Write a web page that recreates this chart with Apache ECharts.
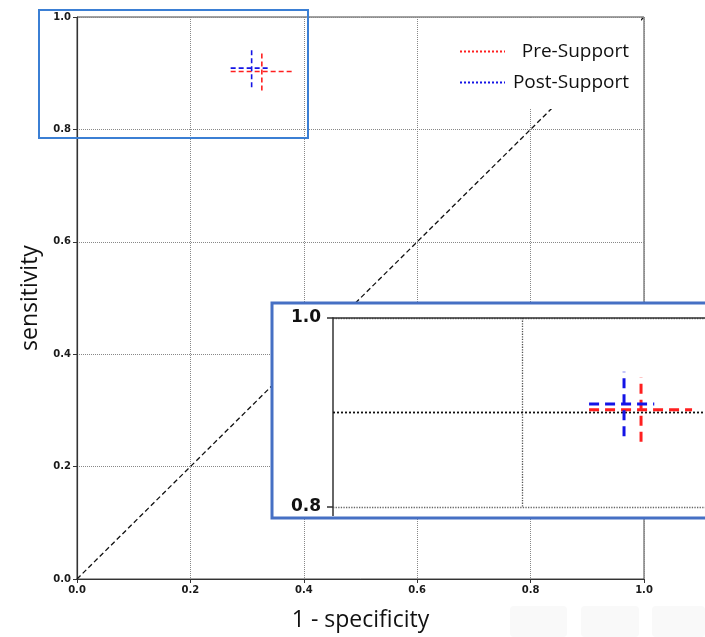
<!DOCTYPE html>
<html>
<head>
<meta charset="utf-8">
<script src="https://cdn.jsdelivr.net/npm/echarts@6/dist/echarts.min.js"></script>
<style>
  html, body { margin: 0; padding: 0; background: #fff; }
  #main { width: 705px; height: 637px; }
</style>
</head>
<body>
<div id="main"></div>
<script>
// data
var groups = ['Pre-Support', 'Post-Support'];
var centerX = [0.326, 0.308];
var centerY = [0.903, 0.909];
var xLow = [0.271, 0.271];
var xHigh = [0.380, 0.340];
var yLow = [0.869, 0.875];
var yHigh = [0.937, 0.943];
var diagonal = [[0, 0], [1, 1]];
var insetRefY = 0.9;
var insetXMax = 0.3937; // inset is cut by the page edge

var colors = ['#ff1f1f', '#1414e6'];
var tickFont = { fontFamily: 'DejaVu Sans', fontWeight: 'bold', fontSize: 10, color: '#1a1a1a' };

var chart = echarts.init(document.getElementById('main'));

// error bar crosses, one pair of segments per group and per grid
function crossSeries(gridIdx, width, dash, zl) {
  var out = [];
  for (var i = 0; i < groups.length; i++) {
    var ls = { color: colors[i], width: width, type: dash };
    var base = {
      name: groups[i], type: 'line', symbol: 'none', silent: true,
      xAxisIndex: gridIdx, yAxisIndex: gridIdx,
      lineStyle: ls, itemStyle: { color: colors[i] },
      zlevel: zl, z: 3, animation: false
    };
    out.push(Object.assign({}, base, { data: [[xLow[i], centerY[i]], [xHigh[i], centerY[i]]] }));
    out.push(Object.assign({}, base, { data: [[centerX[i], yLow[i]], [centerX[i], yHigh[i]]] }));
  }
  return out;
}

var series = [{
  name: 'diag', type: 'line', symbol: 'none', silent: true,
  data: diagonal,
  lineStyle: { color: '#111', width: 1.3, type: [5, 3] },
  z: 2, animation: false
}];
series = series.concat(crossSeries(0, 1.6, [5, 3], 0));
series.push({
  name: 'ref', type: 'line', symbol: 'none', silent: true,
  xAxisIndex: 1, yAxisIndex: 1,
  data: [[0, insetRefY], [insetXMax, insetRefY]],
  lineStyle: { color: '#111', width: 1.8, type: [2, 2] },
  zlevel: 1, z: 2, animation: false
});
series = series.concat(crossSeries(1, 3, [10, 6], 1));

var option = {
  backgroundColor: '#fff',
  animation: false,
  grid: [
    { left: 77, top: 17, width: 567, height: 564, show: true, borderColor: '#444', borderWidth: 1, backgroundColor: 'transparent' },
    { left: 333, top: 318, right: 0, height: 189, show: false }
  ],
  legend: {
    data: groups,
    orient: 'vertical',
    right: 64, top: 19,
    padding: [23, 12, 17, 30],
    backgroundColor: '#fff',
    itemWidth: 45, itemHeight: 14, itemGap: 12,
    lineStyle: { type: [2, 2], width: 2 },
    itemStyle: { color: 'rgba(0,0,0,0)', borderWidth: 0 },
    formatter: '{t|{name}}',
    textStyle: {
      rich: { t: { width: 119, align: 'right', fontSize: 19, lineHeight: 20, fontFamily: 'Open Sans', color: '#111' } }
    },
    selectedMode: false
  },
  xAxis: [{
    gridIndex: 0, type: 'value', min: 0, max: 1, interval: 0.2,
    name: '1 - specificity', nameLocation: 'middle', nameGap: 30,
    nameTextStyle: { fontFamily: 'Open Sans', fontSize: 23, color: '#111' },
    axisLine: { lineStyle: { color: '#333', width: 1.2 } },
    axisTick: { show: true, length: 4, lineStyle: { color: '#333' } },
    axisLabel: Object.assign({ margin: 6, formatter: function (v) { return v.toFixed(1); } }, tickFont),
    splitLine: { show: true, lineStyle: { color: '#888', type: 'dotted', width: 1 } }
  }, {
    gridIndex: 1, type: 'value', min: 0, max: insetXMax, interval: 0.2, position: 'top',
    zlevel: 1, z: 2,
    axisLine: { show: true, lineStyle: { color: '#333', width: 1.5 } },
    axisTick: { show: false },
    axisLabel: { show: false },
    splitLine: { show: true, showMinLine: false, showMaxLine: false,
      lineStyle: { color: '#555', type: 'dotted', width: 1.3 } }
  }],
  yAxis: [{
    gridIndex: 0, type: 'value', min: 0, max: 1, interval: 0.2,
    name: 'sensitivity', nameLocation: 'middle', nameGap: 34,
    nameTextStyle: { fontFamily: 'Open Sans', fontSize: 23, color: '#111' },
    axisLine: { show: true, lineStyle: { color: '#333', width: 1.2 } },
    axisTick: { show: true, length: 4, lineStyle: { color: '#333' } },
    axisLabel: Object.assign({ margin: 6, formatter: function (v) { return v.toFixed(1); } }, tickFont),
    splitLine: { show: true, lineStyle: { color: '#888', type: 'dotted', width: 1 } }
  }, {
    gridIndex: 1, type: 'value', min: 0.8, max: 1.0, interval: 0.2,
    zlevel: 1, z: 2,
    axisLine: { show: true, lineStyle: { color: '#333', width: 1.5 } },
    axisTick: { show: true, length: 6, lineStyle: { color: '#333', width: 1.5 } },
    axisLabel: { margin: 12, fontFamily: 'DejaVu Sans', fontWeight: 'bold', fontSize: 17, color: '#111',
      formatter: function (v) { return v.toFixed(1); } },
    splitLine: { show: true, lineStyle: { color: '#666', type: 'dotted', width: 1.3 } }
  }],
  graphic: [
    // box marking the zoomed region
    { type: 'rect', shape: { x: 39, y: 10, width: 269, height: 128 },
      style: { fill: 'none', stroke: '#3b7fd4', lineWidth: 2 }, z: 10 },
    // inset panel
    { type: 'rect', shape: { x: 272, y: 303, width: 460, height: 215 },
      style: { fill: '#fff', stroke: '#4670c4', lineWidth: 3 }, zlevel: 1, z: 0 },
    { type: 'line', shape: { x1: 333, y1: 507, x2: 333, y2: 516 },
      style: { stroke: '#333', lineWidth: 1.5 }, zlevel: 1, z: 1 },
    // faint viewer buttons in the corner
    { type: 'rect', shape: { x: 510, y: 606, width: 57, height: 31, r: 4 }, style: { fill: '#f9f9f9' }, z: 1 },
    { type: 'rect', shape: { x: 581, y: 606, width: 58, height: 31, r: 4 }, style: { fill: '#f9f9f9' }, z: 1 },
    { type: 'rect', shape: { x: 652, y: 606, width: 53, height: 31, r: 4 }, style: { fill: '#f9f9f9' }, z: 1 }
  ],
  series: series
};
chart.setOption(option);
</script>
</body>
</html>
